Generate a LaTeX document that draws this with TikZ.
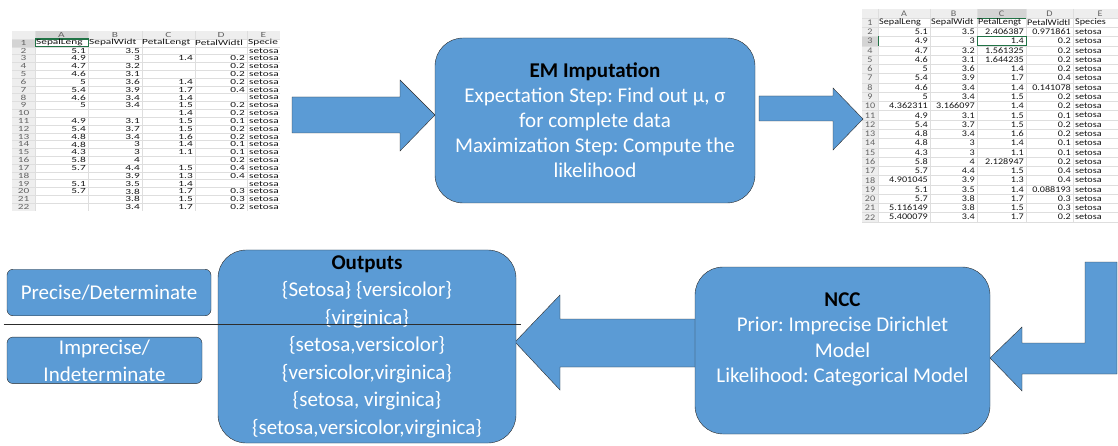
\documentclass[tikz,border=0pt]{standalone}
\usepackage{fontspec}
\setmainfont{Carlito}
\newfontfamily\leftcell{Carlito}[FakeStretch=1.45]
\newfontfamily\rightcell{Carlito}[FakeStretch=1.18]
\frenchspacing
\definecolor{boxblue}{RGB}{91,155,213}
\definecolor{boxline}{RGB}{45,45,45}
\definecolor{gridgray}{RGB}{222,222,222}
\definecolor{headgray}{RGB}{238,238,238}
\definecolor{headsel}{RGB}{212,212,212}
\definecolor{selgreen}{RGB}{33,115,70}
\definecolor{headtext}{RGB}{100,100,100}
\definecolor{celltext}{RGB}{20,20,20}
\usetikzlibrary{positioning}

\begin{document}
\begin{tikzpicture}[x=1pt, y=-1pt, every node/.style={inner sep=0pt},
  bluebox/.style={draw=boxline, fill=boxblue, rounded corners=28pt, text=white,
    align=center, font=\fontsize{21}{25}\selectfont},
  tagbox/.style={draw=boxline, fill=boxblue, rounded corners=6pt, text=white,
    align=center, font=\fontsize{21}{27}\selectfont},
  blockarrow/.style={draw=boxline, fill=boxblue, line join=miter},
  lcell/.style={font=\leftcell\fontsize{7.8}{8}\selectfont, text=celltext},
  rcell/.style={font=\rightcell\fontsize{8.6}{9}\selectfont, text=celltext},
  lhead/.style={font=\leftcell\fontsize{7.8}{8}\selectfont, text=headtext},
  rhead/.style={font=\rightcell\fontsize{8.6}{9}\selectfont, text=headtext}]
\useasboundingbox (0,0) rectangle (1118,446);

% Left sheet: data with gaps
\begin{scope}
\clip (12,31.1) rectangle (280,211);
\fill[headgray] (12,31.1) rectangle (280,38.9);
\fill[headgray] (12,31.1) rectangle (35,211);
\fill[headsel] (35,31.1) rectangle (88,38.9);
\fill[headsel] (12,38.9) rectangle (35,46.7);
\foreach \x in {35,88,142,195,247}
  \draw[gridgray] (\x,31.1) -- (\x,211);
\foreach \i in {1,...,23}
  \draw[gridgray] (12,{31.1+7.82*\i}) -- (280,{31.1+7.82*\i});
\draw[selgreen] (35,38.9) -- (88,38.9);
\draw[selgreen, thick] (35,38.9) rectangle (88,46.7);
\foreach \c/\x in {A/61.5,B/115,C/168.5,D/221,E/263.5}
  \node[lhead] (lh\c) at (\x,35) {\c};
\foreach \r in {1,...,22}
  \node[lhead] (ln\r) at (23.5,{35+7.82*\r}) {\r};
\foreach \t [count=\k] in {SepalLeng,SepalWidt,PetalLengt,PetalWidtl,Specie}
  \node[lcell, anchor=west] (lt\k) at ({36+53*(\k-1)},42.8) {\t};
\foreach \r/\a/\b/\c/\d in {2/5.1/3.5//, 3/4.9/3/1.4/0.2, 4/4.7/3.2//0.2,
    5/4.6/3.1//0.2, 6/5/3.6/1.4/0.2, 7/5.4/3.9/1.7/0.4, 8/4.6/3.4/1.4/,
    9/5/3.4/1.5/0.2, 10///1.4/0.2, 11/4.9/3.1/1.5/0.1, 12/5.4/3.7/1.5/0.2,
    13/4.8/3.4/1.6/0.2, 14/4.8/3/1.4/0.1, 15/4.3/3/1.1/0.1, 16/5.8/4//0.2,
    17/5.7/4.4/1.5/0.4, 18//3.9/1.3/0.4, 19/5.1/3.5/1.4/, 20/5.7/3.8/1.7/0.3,
    21//3.8/1.5/0.3, 22//3.4/1.7/0.2} {
  \node[lcell, anchor=east] (la\r) at (86,{35+7.82*\r}) {\a};
  \node[lcell, anchor=east] (lb\r) at (140,{35+7.82*\r}) {\b};
  \node[lcell, anchor=east] (lc\r) at (193,{35+7.82*\r}) {\c};
  \node[lcell, anchor=east] (ld\r) at (245,{35+7.82*\r}) {\d};
  \node[lcell, anchor=west] (le\r) at (249,{35+7.82*\r}) {setosa};
}
\end{scope}

% Right sheet: imputed data
\begin{scope}
\clip (862,8.66) rectangle (1118,222.4);
\fill[headgray] (862,8.66) rectangle (1118,17.93);
\fill[headgray] (862,8.66) rectangle (878,222.4);
\fill[headsel] (977,8.66) rectangle (1026,17.93);
\fill[headsel] (862,36.47) rectangle (878,45.74);
\foreach \x in {878,930,977,1026,1073}
  \draw[gridgray] (\x,8.66) -- (\x,222.4);
\foreach \i in {1,...,23}
  \draw[gridgray] (862,{8.66+9.27*\i}) -- (1118,{8.66+9.27*\i});
\draw[selgreen] (977,17.93) -- (1026,17.93);
\draw[selgreen] (878,36.47) -- (878,45.74);
\draw[selgreen, thick] (977,36.47) rectangle (1026,45.74);
\foreach \c/\x in {A/904,B/953.5,C/1001.5,D/1049.5,E/1100}
  \node[rhead] (rh\c) at (\x,13.3) {\c};
\foreach \r in {1,...,22}
  \node[rhead] (rn\r) at (870,{13.3+9.27*\r}) {\r};
\node[rcell, anchor=west] (rt1) at (879,22.6) {SepalLeng};
\node[rcell, anchor=west] (rt2) at (931,22.6) {SepalWidt};
\node[rcell, anchor=west] (rt3) at (978,22.6) {PetalLengt};
\node[rcell, anchor=west] (rt4) at (1027,22.6) {PetalWidtl};
\node[rcell, anchor=west] (rt5) at (1075,22.6) {Species};
\foreach \r/\a/\b/\c/\d in {2/5.1/3.5/2.406387/0.971861, 3/4.9/3/1.4/0.2,
    4/4.7/3.2/1.561325/0.2, 5/4.6/3.1/1.644235/0.2, 6/5/3.6/1.4/0.2,
    7/5.4/3.9/1.7/0.4, 8/4.6/3.4/1.4/0.141078, 9/5/3.4/1.5/0.2,
    10/4.362311/3.166097/1.4/0.2, 11/4.9/3.1/1.5/0.1, 12/5.4/3.7/1.5/0.2,
    13/4.8/3.4/1.6/0.2, 14/4.8/3/1.4/0.1, 15/4.3/3/1.1/0.1,
    16/5.8/4/2.128947/0.2, 17/5.7/4.4/1.5/0.4, 18/4.901045/3.9/1.3/0.4,
    19/5.1/3.5/1.4/0.088193, 20/5.7/3.8/1.7/0.3, 21/5.116149/3.8/1.5/0.3,
    22/5.400079/3.4/1.7/0.2} {
  \node[rcell, anchor=east] (ra\r) at (928,{13.3+9.27*\r}) {\a};
  \node[rcell, anchor=east] (rb\r) at (975,{13.3+9.27*\r}) {\b};
  \node[rcell, anchor=east] (rc\r) at (1024,{13.3+9.27*\r}) {\c};
  \node[rcell, anchor=east] (rd\r) at (1071,{13.3+9.27*\r}) {\d};
  \node[rcell, anchor=west] (re\r) at (1075,{13.3+9.27*\r}) {setosa};
}
\end{scope}

% Block arrows
\draw[blockarrow] (292,97) -- (400,97) -- (400,80) -- (435,115) -- (400,151)
  -- (400,133) -- (292,133) -- cycle;
\draw[blockarrow] (759,96) -- (833,96) -- (833,88) -- (863,119) -- (833,150)
  -- (833,121) -- (759,121) -- cycle;
\draw[blockarrow] (1085,262) -- (1117,262) -- (1117,374) -- (1022,374)
  -- (1022,391) -- (990,358) -- (1022,327) -- (1022,343) -- (1085,343) -- cycle;
\draw[blockarrow] (696,319) -- (560,319) -- (560,295) -- (515,342) -- (560,390)
  -- (560,367) -- (696,367) -- cycle;

% EM Imputation
\node[bluebox, minimum width=320, minimum height=165] (em) at (595,120.5) {%
  {\color{black}\bfseries EM Imputation}\\
  Expectation Step: Find out μ, σ\\
  for complete data\\
  Maximization Step: Compute the\\
  likelihood};

% NCC
\node[bluebox, font=\fontsize{21}{25.5}\selectfont,
      minimum width=295, minimum height=167] (ncc) at (842.5,350.5) {%
  {\color{black}\bfseries NCC}\\
  Prior: Imprecise Dirichlet\\
  Model\\
  Likelihood: Categorical Model\\
  \mbox{}};

% Outputs
\node[bluebox, font=\fontsize{21}{27.5}\selectfont,
      minimum width=298, minimum height=193] (outputs) at (367,346.5) {%
  {\color{black}\bfseries Outputs}\\
  \{Setosa\} \{versicolor\}\\
  \{virginica\}\\
  \{setosa,versicolor\}\\
  \{versicolor,virginica\}\\
  \{setosa, virginica\}\\
  \{setosa,versicolor,virginica\}};

% Output kinds
\node[tagbox, minimum width=204, minimum height=46.5] (precise) at (109,292.5)
  {Precise/Determinate};
\node[tagbox, minimum width=195, minimum height=46.5] (imprecise) at (104.5,360.3)
  {Imprecise/\\Indeterminate};
\draw[boxline] (3.6,324.6) -- (521,324.6);

\end{tikzpicture}
\end{document}
